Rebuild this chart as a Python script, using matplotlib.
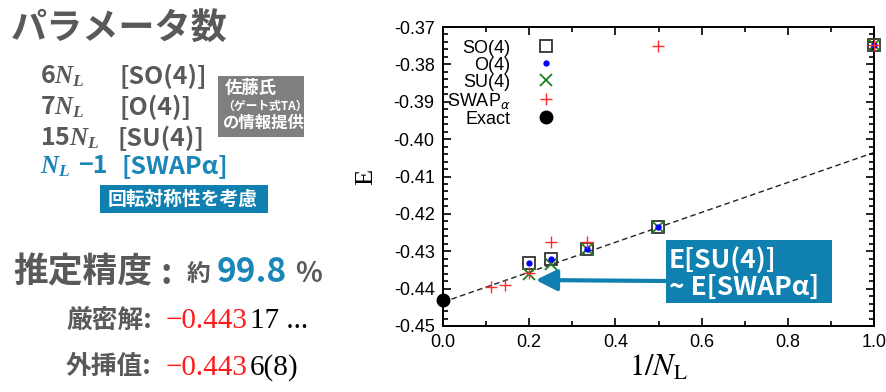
import numpy as np
import matplotlib
matplotlib.use("Agg")
import matplotlib.pyplot as plt
from matplotlib.patches import Rectangle
from matplotlib.ticker import MultipleLocator, FormatStrFormatter

plt.rcParams['font.family'] = ['Noto Sans CJK JP', 'DejaVu Sans']
plt.rcParams['mathtext.fontset'] = 'custom'
plt.rcParams['mathtext.it'] = 'Liberation Serif:italic:bold'
plt.rcParams['mathtext.rm'] = 'Liberation Serif:bold'

# data (E vs 1/N_L)
nl_so4 = np.array([5, 4, 3, 2, 1])
e_so4 = np.array([-0.4332, -0.4321, -0.4294, -0.4235, -0.3749])
nl_o4 = np.array([5, 4, 3, 2, 1])
e_o4 = np.array([-0.4332, -0.4321, -0.4294, -0.4235, -0.3749])
nl_su4 = np.array([5, 4, 3, 2, 1])
e_su4 = np.array([-0.4361, -0.4335, -0.4294, -0.4235, -0.3749])
nl_swap = np.array([9, 7, 5, 4, 3, 2, 1])
e_swap = np.array([-0.4396, -0.4390, -0.4358, -0.4275, -0.4275, -0.3751, -0.3749])
e_exact = -0.44317
fit_a, fit_b = -0.4436, 0.0400

W, H = 887, 392
gray = '#595959'
teal = '#0f80b0'
blue = '#1b87b8'

def px(x, y):
    return x / W, 1 - y / H

fig = plt.figure(figsize=(W / 100, H / 100), dpi=100)
ax = fig.add_axes([443 / W, 1 - 326 / H, (874 - 443) / W, (326 - 27) / H])

xf = np.array([0.0, 1.0])
ax.plot(xf, fit_a + fit_b * xf, '--', color='#222222', lw=1.0, dashes=(4, 2.5), zorder=1)
ax.plot(1 / nl_so4, e_so4, 's', ms=8, mfc='none', mec='#333333', mew=1.3, label='SO(4)', zorder=3, clip_on=False)
ax.plot(1 / nl_o4, e_o4, 'o', ms=3.5, color='#0000ff', label='O(4)', zorder=4, clip_on=False)
ax.plot(1 / nl_su4, e_su4, 'x', ms=8, mew=1.3, color='#1e7d1e', label='SU(4)', zorder=3, clip_on=False)
ax.plot(1 / nl_swap, e_swap, '+', ms=9, mew=1.0, color='#ff2a2a', label=r'SWAP$_{\alpha}$', zorder=5, clip_on=False)
ax.plot([0.0], [e_exact], 'o', ms=9, color='black', label='Exact', clip_on=False, zorder=6)

ax.set_xlim(0, 1)
ax.set_ylim(-0.45, -0.37)
ax.xaxis.set_major_locator(MultipleLocator(0.2))
ax.xaxis.set_minor_locator(MultipleLocator(0.1))
ax.yaxis.set_major_locator(MultipleLocator(0.01))
ax.yaxis.set_minor_locator(MultipleLocator(0.002))
ax.xaxis.set_major_formatter(FormatStrFormatter('%.1f'))
ax.yaxis.set_major_formatter(FormatStrFormatter('%.2f'))
ax.tick_params(which='both', direction='in', top=True, right=True, width=1.2)
ax.tick_params(which='major', length=6, labelsize=13, pad=6)
ax.tick_params(which='minor', length=3.5)
for lab in ax.get_xticklabels() + ax.get_yticklabels():
    lab.set_family('Liberation Sans')
for s in ax.spines.values():
    s.set_linewidth(1.4)

ax.set_xlabel(r'$1/N_{\mathrm{L}}$', fontsize=22, math_fontfamily='stix', labelpad=0)
ax.set_ylabel('E', fontsize=19, family='Liberation Serif', rotation=90, labelpad=12)

leg = ax.legend(loc='upper left', bbox_to_anchor=(-0.02, 1.0), frameon=False, markerfirst=False,
                fontsize=13, labelspacing=0.0, handlelength=1.0, handletextpad=1.5,
                borderaxespad=0.3)
for t in leg.get_texts():
    t.set_family('Liberation Sans')
    t.set_math_fontfamily('dejavusans')
    t.set_ha('right')
leg._legend_box.align = 'right'

# callout box and arrow
fig.patches.append(Rectangle(px(666, 303), 166 / W, 63 / H, transform=fig.transFigure,
                             facecolor=teal, edgecolor='none', zorder=5))
fig.text(*px(669, 261), 'E[SU(4)]', color='white', fontsize=19, weight='bold', va='center', zorder=6)
fig.text(*px(669, 287), '~ E[SWAPα]', color='white', fontsize=19, weight='bold', va='center', zorder=6)
ax.annotate('', xy=(0.215, -0.4377), xycoords='data', xytext=px(667, 281), textcoords='figure fraction',
            arrowprops=dict(arrowstyle='-|>', color=teal, lw=3, mutation_scale=32, shrinkA=0, shrinkB=0))

# left panel
fig.text(*px(11, 28), 'パラメータ数', fontsize=26, weight='bold', color=gray, va='center')
rows = [('6$N_L$', '[SO(4)]', 76, 120), ('7$N_L$', '[O(4)]', 107, 120), ('15$N_L$', '[SU(4)]', 138, 118)]
for a, b, y, xb in rows:
    fig.text(*px(40, y), a, fontsize=18, weight='bold', color=gray, va='center')
    fig.text(*px(xb, y), b, fontsize=18, weight='bold', color=gray, va='center')
fig.text(*px(40, 166), '$N_L$', fontsize=18, color=blue, va='center')
fig.text(*px(78, 166), '−1', fontsize=18, weight='bold', color=blue, va='center')
fig.text(*px(122, 166), '[SWAPα]', fontsize=18, weight='bold', color=blue, va='center')

fig.patches.append(Rectangle(px(218, 137), 86 / W, 61 / H, transform=fig.transFigure,
                             facecolor='#7f7f7f', edgecolor='none'))
fig.text(*px(225, 88), '佐藤氏', fontsize=12.5, weight='bold', color='white', va='center')
fig.text(*px(222, 106), '（ゲート式TA）', fontsize=8.5, weight='bold', color='white', va='center')
fig.text(*px(223, 123), 'の情報提供', fontsize=11.8, weight='bold', color='white', va='center')

fig.patches.append(Rectangle(px(100, 213), 168 / W, 28 / H, transform=fig.transFigure,
                             facecolor=teal, edgecolor='none'))
fig.text(*px(183, 199), '回転対称性を考慮', fontsize=13.5, weight='bold', color='white',
         va='center', ha='center')

fig.text(*px(13, 272), '推定精度', fontsize=25, weight='bold', color=gray, va='center')
fig.text(*px(161, 273), ':', fontsize=25, weight='bold', color=gray, va='center')
fig.text(*px(187, 274), '約', fontsize=17, weight='bold', color=gray, va='center')
fig.text(*px(217, 273), '99.8', fontsize=24, weight='bold', color=blue, va='center')
fig.text(*px(295, 274), '%', fontsize=20, weight='bold', color=gray, va='center')

fig.text(*px(66, 320), '厳密解:', fontsize=18.5, weight='bold', color=gray, va='center')
fig.text(*px(166, 321), '−0.443', fontsize=21, color='#ff1a1a', va='center', family='Liberation Serif')
fig.text(*px(250, 321), '17 ...', fontsize=21, color='black', va='center', family='Liberation Serif')
fig.text(*px(66, 367), '外挿值:', fontsize=18.5, weight='bold', color=gray, va='center')
fig.text(*px(166, 368), '−0.443', fontsize=21, color='#ff1a1a', va='center', family='Liberation Serif')
fig.text(*px(250, 368), '6(8)', fontsize=21, color='black', va='center', family='Liberation Serif')

fig.savefig('out.png', dpi=100)
